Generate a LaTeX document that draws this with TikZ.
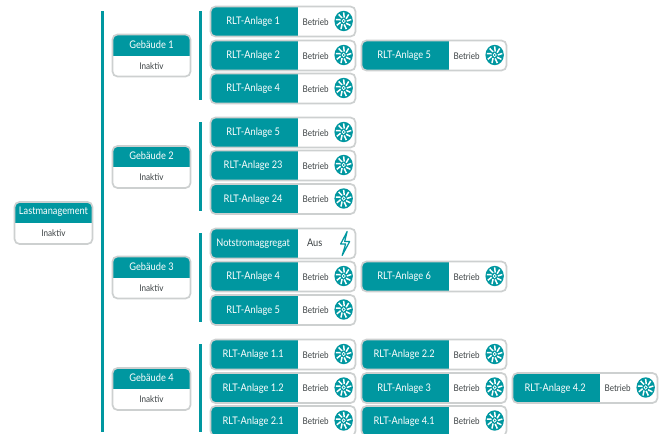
\documentclass[tikz,border=0pt]{standalone}
\usepackage{fontspec}
\setmainfont[FakeStretch=0.88]{Lato}
\usepackage{tikz}
\usetikzlibrary{positioning,calc}
\definecolor{lastTeal}{RGB}{0,151,160}
\definecolor{lastBorder}{RGB}{205,208,208}
\definecolor{lastText}{RGB}{60,66,68}
\tikzset{
  anlagecard/.style={draw=lastBorder, line width=1.7pt, fill=white, rounded corners=5pt,
    minimum width=145pt, minimum height=30pt, inner sep=0pt,
    path picture={\fill[lastTeal, sharp corners] (path picture bounding box.north west) rectangle ([xshift=87pt]path picture bounding box.south west);}},
  gebaeudecard/.style={draw=lastBorder, line width=1.7pt, fill=white, rounded corners=5pt,
    minimum width=78pt, minimum height=42pt, inner sep=0pt,
    path picture={\fill[lastTeal, sharp corners] (path picture bounding box.north west) rectangle ([yshift=-21pt]path picture bounding box.north east);}},
  titletext/.style={text=white, font=\fontsize{10.5}{12}\selectfont, inner sep=0pt},
  statetext/.style={text=lastText, font=\fontsize{9.2}{11}\selectfont, inner sep=0pt},
  barline/.style={draw=lastTeal, line width=3.2pt},
  fan/.pic={
    \fill[lastTeal] (0,0) ellipse (9.2pt and 10.2pt);
    \begin{scope}[yscale=1.1]
      \foreach \a in {0,40,...,320}
        \draw[white, line width=1.5pt] (\a:3.2pt) -- (\a+10:7.8pt);
      \draw[white, line width=0.7pt] (0,0) circle (1.6pt);
    \end{scope}
  },
}
\begin{document}
\begin{tikzpicture}[x=1pt, y=-1pt]
  \useasboundingbox (0,0) rectangle (662,434);
  \clip (0,0) rectangle (662,434);
  % Bars
  \foreach \barname/\x/\ya/\yb in {main/102.5/11/432, sub1/200.5/11/100, sub2/200.5/122/211, sub3/200.5/233/322, sub4/200.5/344/432} {
    \coordinate (\barname-top) at (\x,\ya);
    \coordinate (\barname-bot) at (\x,\yb);
    \draw[barline] (\barname-top) -- (\barname-bot);
  }
  % Root and buildings
  \foreach \cardname/\x/\y/\lab in {last/53.5/223/Lastmanagement, geb1/151.5/55.5/Gebäude 1, geb2/151.5/167/Gebäude 2, geb3/151.5/277.5/Gebäude 3, geb4/151.5/389/Gebäude 4} {
    \node[gebaeudecard] (\cardname) at (\x,\y) {};
    \node[titletext] (\cardname-title) at ($(\cardname.north)+(0,11)$) {\lab};
    \node[statetext] (\cardname-state) at ($(\cardname.north)+(0,32)$) {Inaktiv};
  }
  % Units
  \foreach \cardname/\x/\y/\lab in {
      a1/283/21.5/RLT-Anlage 1, a2/283/55.5/RLT-Anlage 2, a4/283/88.5/RLT-Anlage 4, a5/434/55.5/RLT-Anlage 5,
      b5/283/132.5/RLT-Anlage 5, b23/283/165.5/RLT-Anlage 23, b24/283/199/RLT-Anlage 24,
      c4/283/276.5/RLT-Anlage 4, c5/283/310/RLT-Anlage 5, c6/434/276.5/RLT-Anlage 6,
      d11/283/354.5/RLT-Anlage 1.1, d12/283/388/RLT-Anlage 1.2, d21/283/421/RLT-Anlage 2.1,
      d22/434/354.5/RLT-Anlage 2.2, d3/434/388/RLT-Anlage 3, d41/434/421/RLT-Anlage 4.1, d42/585/388/RLT-Anlage 4.2} {
    \node[anlagecard] (\cardname) at (\x,\y) {};
    \node[titletext] (\cardname-title) at ($(\cardname.west)+(43.5,0.4)$) {\lab};
    \node[statetext] (\cardname-state) at ($(\cardname.west)+(106,0.2)$) {Betrieb};
    \pic at ($(\cardname.west)+(134,-0.5)$) {fan};
  }
  % Emergency generator
  \node[anlagecard] (n1) at (283,243.5) {};
  \node[titletext] (n1-title) at ($(n1.west)+(43.5,0.4)$) {Notstromaggregat};
  \node[statetext, font=\fontsize{10.5}{12}\selectfont] (n1-state) at ($(n1.west)+(105,-0.8)$) {Aus};
  \draw[lastTeal, line width=1.2pt, line join=round] ($(n1.west)+(137.5,-12)$) -- ++(-6.5,12.5) -- ++(5,0) -- ++(-3.5,11.5) -- ++(7.5,-14) -- ++(-5,0) -- cycle;
\end{tikzpicture}
\end{document}
